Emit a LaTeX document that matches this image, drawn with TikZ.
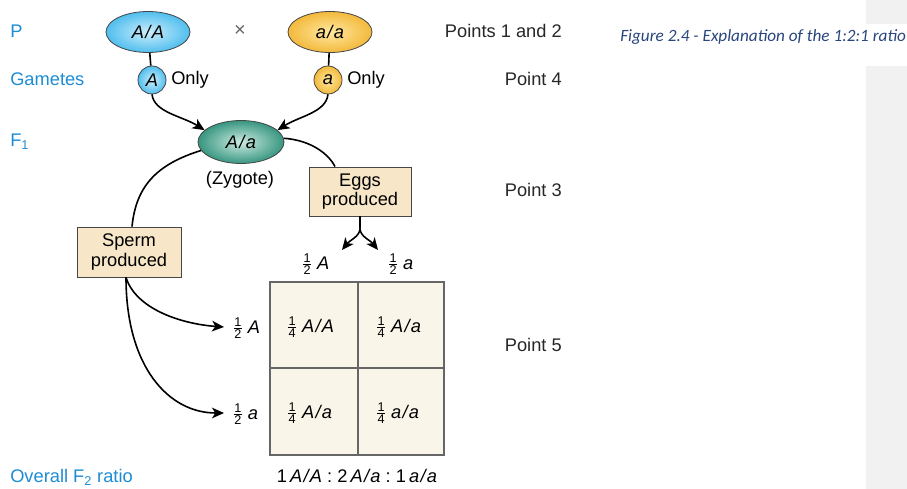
\documentclass[tikz,border=0pt]{standalone}
\usepackage{fontspec}
\setmainfont{Liberation Sans}
\newfontfamily\capfont{Carlito}
\usetikzlibrary{arrows.meta,shapes.geometric}
\definecolor{lblblue}{RGB}{28,140,212}
\definecolor{capblue}{RGB}{40,70,125}
\definecolor{boxfill}{RGB}{247,231,200}
\definecolor{sqfill}{RGB}{249,245,233}
\definecolor{panelgray}{RGB}{241,241,241}
\definecolor{edgegray}{RGB}{70,70,70}
\newcommand\fr[2]{\raisebox{1.2pt}{\ensuremath{\vcenter{\offinterlineskip\fontsize{9.5}{9.5}\selectfont\halign{\hfil##\hfil\cr\strut\kern0.6pt#1\kern0.6pt\cr\noalign{\kern-1.2pt\hrule height0.5pt\kern0.8pt}#2\cr\noalign{\kern-1.5pt}}}}}\hspace{4.2pt}}
\newcommand\gt[2]{\textit{#1\kern1pt/\kern1pt#2}}
\tikzset{
  lbl/.style={text=lblblue, anchor=west, inner sep=0pt},
  pt/.style={anchor=east, inner sep=0pt, text=black!85},
  geno/.style={ellipse, draw=edgegray, line width=0.6pt, minimum width=63pt, minimum height=30.75pt, inner sep=0pt},
  bluefill/.style={inner color={rgb,255:red,205;green,238;blue,252}, outer color={rgb,255:red,80;green,190;blue,238}},
  yelfill/.style={inner color={rgb,255:red,255;green,232;blue,160}, outer color={rgb,255:red,243;green,185;blue,60}},
  tealfill/.style={inner color={rgb,255:red,205;green,235;blue,225}, outer color={rgb,255:red,55;green,150;blue,128}},
  gam/.style={circle, draw=edgegray, line width=0.6pt, minimum size=21pt, inner sep=0pt},
  prodbox/.style={rectangle, draw=edgegray, line width=0.6pt, fill=boxfill, align=center, inner sep=0pt, font=\fontsize{13.7}{14.3}\selectfont},
  conn/.style={line width=1.2pt, black},
  arr/.style={conn, -{Stealth[length=9pt,width=8pt,inset=2.5pt]}},
  cell/.style={inner sep=1pt}
}
\begin{document}
\begin{tikzpicture}[x=0.75pt,y=-0.75pt, font=\fontsize{13.7}{15.5}\selectfont]
\useasboundingbox (0,0) rectangle (907,489);
% right panel
\fill[panelgray] (866,0) rectangle (907,24);
\fill[panelgray] (866,66) rectangle (907,489);
\begin{scope}
\clip (0,0) rectangle (907,489);
\node[anchor=west, inner sep=0pt, text=capblue, font=\capfont\itshape\fontsize{12.9}{15}\selectfont] (cap) at (620,37) {Figure 2.4 - Explanation of the 1:2:1 ratio};
\end{scope}

% left labels
\node[lbl] (lP) at (10,31) {P};
\node[lbl] (lG) at (10,79) {Gametes};
\node[lbl] (lF) at (10,142) {F\textsubscript{1}};
\node[lbl] (lO) at (10,477) {Overall F\textsubscript{2} ratio};

% right labels
\node[pt] (p12) at (562,31) {Points 1 and 2};
\node[pt] (p4) at (562,79) {Point 4};
\node[pt] (p3) at (562,190) {Point 3};
\node[pt] (p5) at (562,345) {Point 5};

% parents
\node[geno, bluefill] (AA) at (148,32) {\gt{A}{A}};
\node[geno, yelfill] (aa) at (330,32) {\gt{a}{a}};
\node[text=black!60, font=\fontsize{15}{15}\selectfont] (x) at (240,31) {\texttimes};

% gametes
\node[gam, bluefill] (Ag) at (152,80) {\textit{A}};
\node[anchor=west, inner sep=0pt] (Aonly) at (171,80) {Only};
\node[gam, yelfill] (ag) at (328,80) {\textit{a}};
\node[anchor=west, inner sep=0pt] (aonly) at (347,80) {Only};

% F1
\node[geno, tealfill, minimum width=64.5pt, minimum height=32.25pt] (F1) at (241,142) {\gt{A}{a}};
\node (zyg) at (240,180) {(Zygote)};

% boxes
\node[prodbox, minimum width=76.5pt, minimum height=36.75pt] (eggs) at (360,191.5) {Eggs\\produced};
\node[prodbox, minimum width=78pt, minimum height=37.5pt] (sperm) at (129,252) {Sperm\\produced};

% Punnett square
\draw[fill=sqfill, draw=black!60, line width=0.8pt] (270,282) rectangle (444,455);
\draw[black!60, line width=0.8pt] (358,282) -- (358,455);
\draw[black!60, line width=0.8pt] (270,368) -- (444,368);
\node[cell] (c11) at (311,326) {\fr{1}{4}\gt{A}{A}};
\node[cell] (c12) at (399,326) {\fr{1}{4}\gt{A}{a}};
\node[cell] (c21) at (310,412) {\fr{1}{4}\gt{A}{a}};
\node[cell] (c22) at (398,412) {\fr{1}{4}\gt{a}{a}};

% column and row labels
\node[cell] (colA) at (316,263) {\fr{1}{2}\textit{A}};
\node[cell] (cola) at (401,263) {\fr{1}{2}\textit{a}};
\node[cell, anchor=west] (rowA) at (232,327) {\fr{1}{2}\textit{A}};
\node[cell, anchor=west] (rowa) at (232,413) {\fr{1}{2}\textit{a}};

% ratio
\node (ratio) at (357,476) {1\,\gt{A}{A}\;:\;2\,\gt{A}{a}\;:\;1\,\gt{a}{a}};

% connectors
\draw[conn] (AA) -- (Ag);
\draw[conn] (aa) -- (ag);
\draw[arr] (Ag.south) .. controls +(2,18) and +(-22,-14) .. (F1.162);
\draw[arr] (ag.south) .. controls +(-2,18) and +(22,-14) .. (F1.18);
\draw[conn] (F1.5) .. controls +(28,2) and +(-6,-12) .. ([xshift=-18.75pt]eggs.north);
\draw[conn] (F1.192) .. controls +(-45,14) and +(4,-40) .. ([xshift=2.25pt]sperm.north);

\coordinate (fork) at ([yshift=-9pt]eggs.south);
\coordinate (tipL) at (342,250);
\coordinate (tipR) at (378,250);
\draw[conn] (eggs.south) -- (fork);
\draw[arr] (fork) .. controls +(0,8) and +(8,-10) .. (tipL);
\draw[arr] (fork) .. controls +(0,8) and +(-8,-10) .. (tipR);

\coordinate (sp) at ([xshift=-2.25pt]sperm.south);
\draw[arr] (sp) .. controls +(10,32) and +(-42,-3) .. ([xshift=-6pt]rowA.west);
\draw[arr] (sp) .. controls +(0,90) and +(-55,0) .. ([xshift=-6pt]rowa.west);
\end{tikzpicture}
\end{document}
